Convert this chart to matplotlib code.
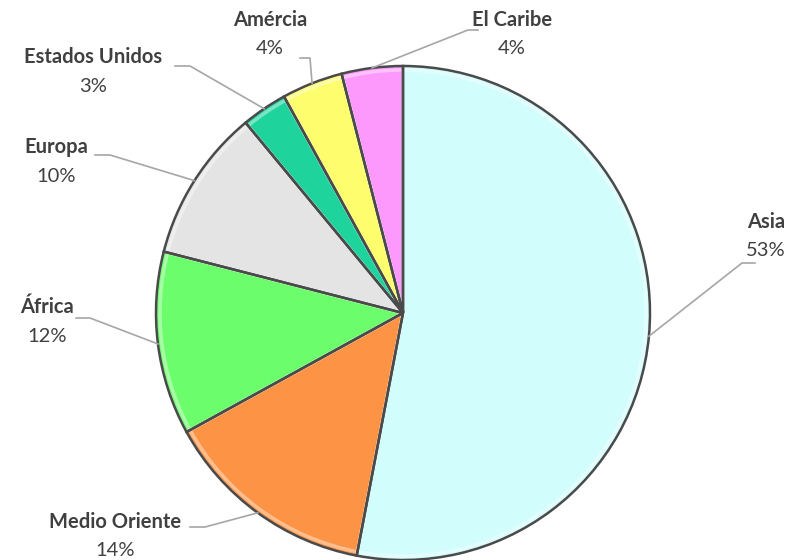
import numpy as np
import matplotlib
matplotlib.use('Agg')
import matplotlib.pyplot as plt

# share of each region
regions = ['Asia', 'Medio Oriente', 'África', 'Europa', 'Estados Unidos', 'Amércia', 'El Caribe']
shares = [53, 14, 12, 10, 3, 4, 4]
colors = ['#d2fdfd', '#fd9445', '#6cfd6c', '#e4e4e4', '#1fd39d', '#fdfd6e', '#fd99fd']

W, H = 793, 560
cx, cy, rad = 403, 313, 247

# label layout in pixels: name centre, elbow point, end of horizontal leg
label_pos = {
    'Asia':           ((766, 222), (742, 263), (755, 263)),
    'Medio Oriente':  ((115, 522), (205, 527), (190, 527)),
    'África':         ((47, 307),  (90, 318),  (76, 318)),
    'Europa':         ((56, 147),  (110, 155), (95, 155)),
    'Estados Unidos': ((93, 57),   (190, 66),  (175, 66)),
    'Amércia':        ((270, 20),  (310, 58),  (300, 58)),
    'El Caribe':      ((512, 20),  (468, 30),  (478, 30)),
}


def py(y):
    # pixel row -> data y
    return H - y


fig = plt.figure(figsize=(W / 100, H / 100), dpi=100)
ax = fig.add_axes([0, 0, 1, 1])

pie_kw = dict(startangle=90, counterclock=False, center=(cx, py(cy)))

# filled slices
wedges, _ = ax.pie(shares, colors=colors, radius=rad,
                   wedgeprops=dict(linewidth=0), **pie_kw)
# soft inner highlight to hint at the bevelled look
ax.pie(shares, colors=['none'] * len(shares), radius=rad - 4,
       wedgeprops=dict(edgecolor='white', linewidth=2.5, alpha=0.4), **pie_kw)
# dark outlines on top
ax.pie(shares, colors=['none'] * len(shares), radius=rad,
       wedgeprops=dict(edgecolor='#4a4a4a', linewidth=1.8), **pie_kw)

txt_color = '#404040'
for w, name, val in zip(wedges, regions, shares):
    ang = np.deg2rad((w.theta1 + w.theta2) / 2)
    ax0 = cx + rad * np.cos(ang)
    ay0 = py(cy) + rad * np.sin(ang)
    (tx, ty), (ex, ey), (hx, hy) = label_pos[name]
    ax.plot([ax0, ex, hx], [ay0, py(ey), py(hy)], color='#a6a6a6', lw=1.2)
    ax.text(tx, py(ty), name, ha='center', va='center', fontsize=14.5,
            fontweight='bold', color=txt_color, family='Lato')
    ax.text(tx, py(ty + 29), f'{val}%', ha='center', va='center', fontsize=14.5,
            color=txt_color, family='Lato')

ax.set_xlim(0, W)
ax.set_ylim(0, H)
ax.set_aspect('equal')
ax.axis('off')

fig.savefig('out.png', dpi=100)
